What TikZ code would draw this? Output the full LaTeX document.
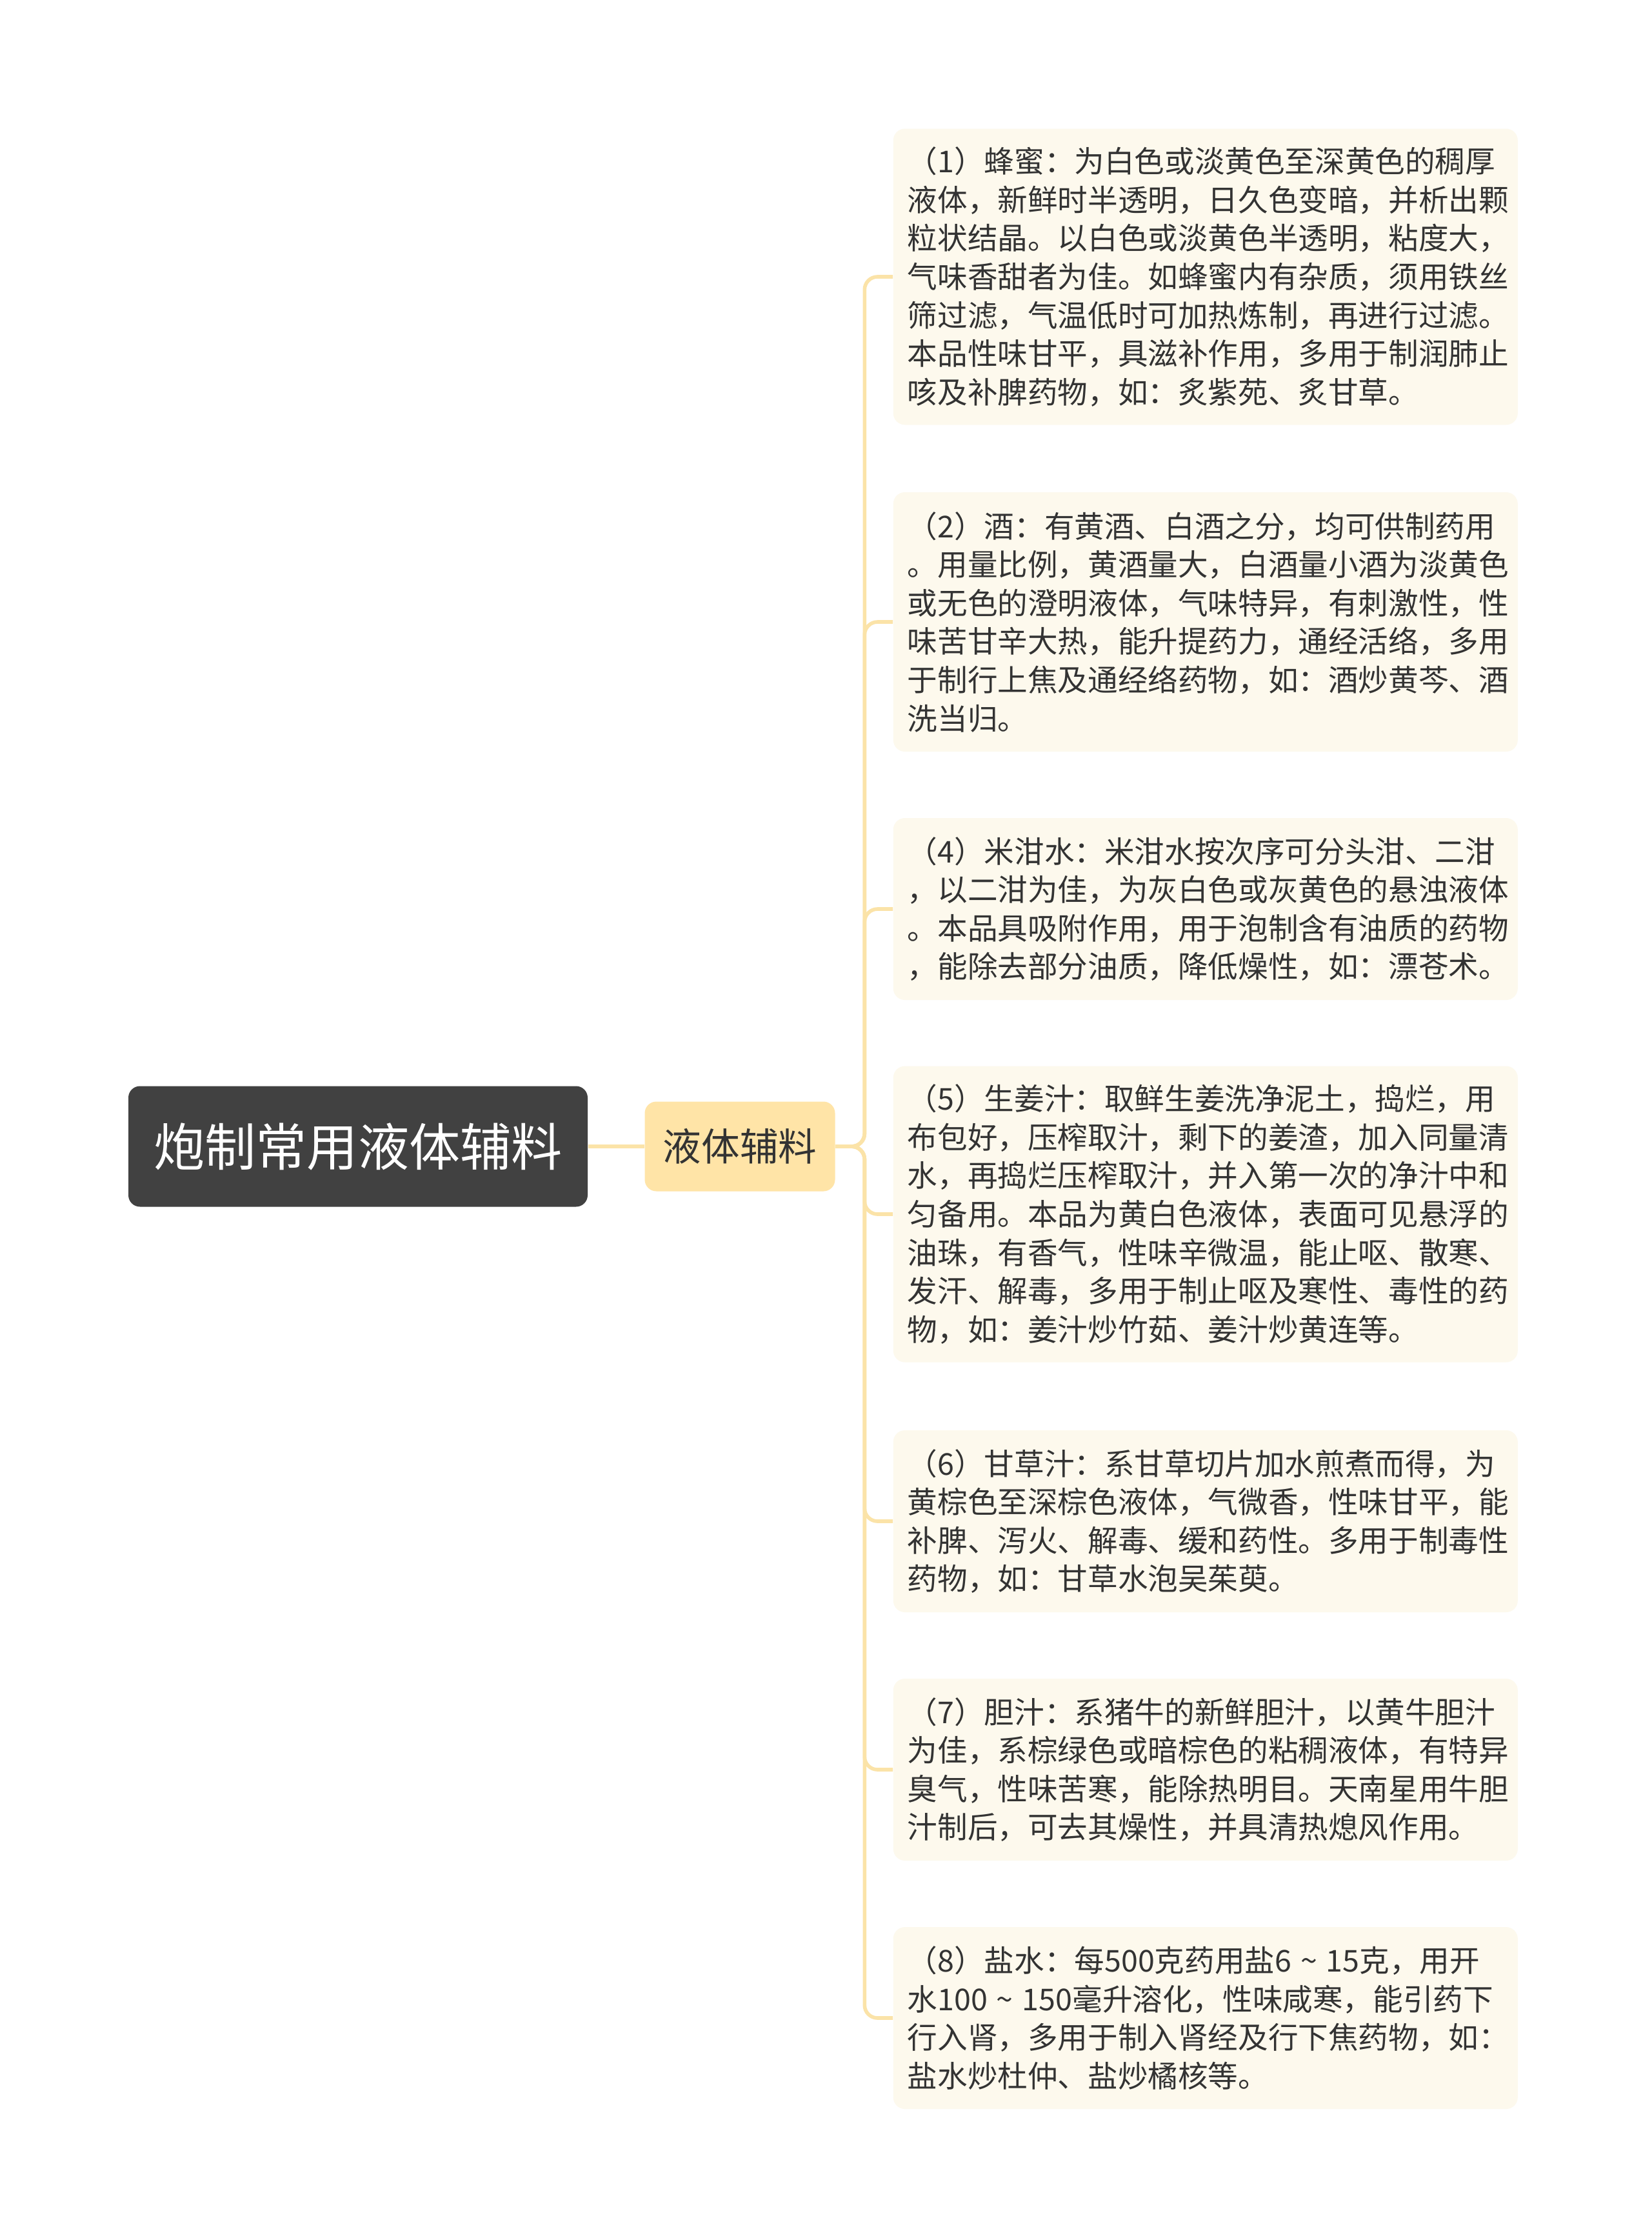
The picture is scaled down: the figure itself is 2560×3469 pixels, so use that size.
\documentclass[tikz,border=0pt]{standalone}
\usepackage{fontspec}
\usepackage{tikz}
\usetikzlibrary{positioning}
\newfontfamily\cjk{Noto Sans CJK SC}
\newcommand{\spanto}{\hspace{.3em}\textasciitilde\hspace{.3em}}
\definecolor{rootgray}{HTML}{414141}
\definecolor{topicyellow}{HTML}{FFE4A7}
\definecolor{leafcream}{HTML}{FDF9ED}
\definecolor{branchline}{HTML}{FBE3A8}
\definecolor{inktext}{HTML}{333333}

\begin{document}
\begin{tikzpicture}[x=0.25pt, y=-0.25pt, node distance=148pt]
      \tikzstyle{rootbox} = [rectangle, rounded corners=4.5pt, minimum width=178pt, minimum height=46.75pt, inner sep=0pt, text centered, fill=rootgray, text=white, font=\cjk\fontsize{19.8pt}{24pt}\selectfont]
      \tikzstyle{topicbox} = [rectangle, rounded corners=4.5pt, minimum width=73.75pt, minimum height=34.75pt, inner sep=0pt, text centered, fill=topicyellow, text=inktext, font=\cjk\fontsize{14.9pt}{18pt}\selectfont]
      \tikzstyle{leafbox} = [rectangle, rounded corners=4.5pt, anchor=west, text width=231pt, inner xsep=5.5pt, inner ysep=0pt, align=left, fill=leafcream, text=inktext, font=\cjk\fontsize{11.65pt}{14.9pt}\selectfont]
      \tikzstyle{branch} = [line width=1.4pt, draw=branchline, rounded corners=5pt]

      \fill [white] (0,0) rectangle (2560,3469);
      \useasboundingbox (0,0) rectangle (2560,3469);

      \node (root) [rootbox] at (555,1777) {炮制常用液体辅料};
      \node (liquid) [topicbox, right of=root] {液体辅料};
      \draw [branch] (root.east) -- (liquid.west);

      \node (honey) [leafbox, minimum height=114.75pt] at (1384,429) {（1）蜂蜜：为白色或淡黄色至深黄色的稠厚\\液体，新鲜时半透明，日久色变暗，并析出颗\\粒状结晶。以白色或淡黄色半透明，粘度大，\\气味香甜者为佳。如蜂蜜内有杂质，须用铁丝\\筛过滤，气温低时可加热炼制，再进行过滤。\\本品性味甘平，具滋补作用，多用于制润肺止\\咳及补脾药物，如：炙紫苑、炙甘草。};
      \node (wine) [leafbox, minimum height=100.5pt] at (1384,964) {（2）酒：有黄酒、白酒之分，均可供制药用\\。用量比例，黄酒量大，白酒量小酒为淡黄色\\或无色的澄明液体，气味特异，有刺激性，性\\味苦甘辛大热，能升提药力，通经活络，多用\\于制行上焦及通经络药物，如：酒炒黄芩、酒\\洗当归。};
      \node (rice) [leafbox, minimum height=70.5pt] at (1384,1409) {（4）米泔水：米泔水按次序可分头泔、二泔\\，以二泔为佳，为灰白色或灰黄色的悬浊液体\\。本品具吸附作用，用于泡制含有油质的药物\\，能除去部分油质，降低燥性，如：漂苍术。};
      \node (ginger) [leafbox, minimum height=114.75pt] at (1384,1882) {（5）生姜汁：取鲜生姜洗净泥土，捣烂，用\\布包好，压榨取汁，剩下的姜渣，加入同量清\\水，再捣烂压榨取汁，并入第一次的净汁中和\\匀备用。本品为黄白色液体，表面可见悬浮的\\油珠，有香气，性味辛微温，能止呕、散寒、\\发汗、解毒，多用于制止呕及寒性、毒性的药\\物，如：姜汁炒竹茹、姜汁炒黄连等。};
      \node (licorice) [leafbox, minimum height=70.5pt] at (1384,2358) {（6）甘草汁：系甘草切片加水煎煮而得，为\\黄棕色至深棕色液体，气微香，性味甘平，能\\补脾、泻火、解毒、缓和药性。多用于制毒性\\药物，如：甘草水泡吴茱萸。};
      \node (bile) [leafbox, minimum height=70.5pt] at (1384,2743) {（7）胆汁：系猪牛的新鲜胆汁，以黄牛胆汁\\为佳，系棕绿色或暗棕色的粘稠液体，有特异\\臭气，性味苦寒，能除热明目。天南星用牛胆\\汁制后，可去其燥性，并具清热熄风作用。};
      \node (brine) [leafbox, minimum height=70.5pt] at (1384,3128) {（8）盐水：每500克药用盐6\spanto15克，用开\\水100\spanto150毫升溶化，性味咸寒，能引药下\\行入肾，多用于制入肾经及行下焦药物，如：\\盐水炒杜仲、盐炒橘核等。};

      \foreach \leaf in {honey, wine, rice, ginger, licorice, bile, brine}
        \draw [branch] (liquid.east) -- ++(45,0) |- (\leaf.west);

\end{tikzpicture}
\end{document}
